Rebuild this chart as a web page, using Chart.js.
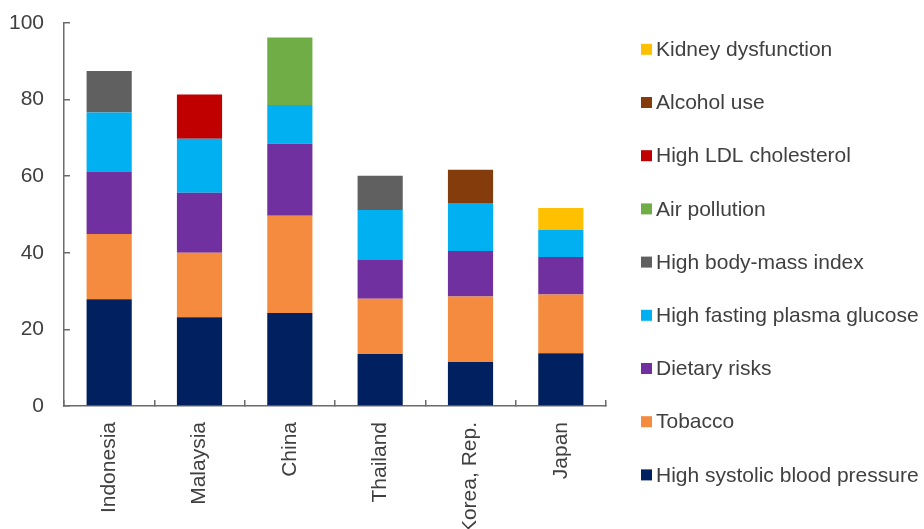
<!DOCTYPE html>
<html>
<head>
<meta charset="utf-8">
<script src="https://cdn.jsdelivr.net/npm/chart.js@4.4.1/dist/chart.umd.min.js"></script>
<style>
  html, body { margin: 0; padding: 0; background: #fff; overflow: hidden; }
  #wrap { width: 924px; height: 529px; position: relative; }
</style>
</head>
<body>
<div id="wrap"><canvas id="riskChart"></canvas></div>
<script>
const countries = ['Indonesia', 'Malaysia', 'China', 'Thailand', 'Korea, Rep.', 'Japan'];

const systolicBP  = [27.9, 23.2, 24.3, 13.6, 11.5, 13.8];
const tobacco     = [17.0, 16.8, 25.4, 14.4, 17.1, 15.3];
const dietary     = [16.3, 15.7, 18.8, 10.1, 11.9, 9.8];
const plasmaGluc  = [15.4, 14.1, 10.1, 13.1, 12.5, 7.1];
const bodyMass    = [10.9, null, null, 8.9, null, null];
const airPoll     = [null, null, 17.6, null, null, null];
const ldlChol     = [null, 11.5, null, null, null, null];
const alcohol     = [null, null, null, null, 8.7, null];
const kidney      = [null, null, null, null, null, 5.7];

const yTicks = [0, 20, 40, 60, 80, 100];

const FONT = '"Liberation Sans", Arial, sans-serif';
const TXT = '#404040';
const AXIS = '#6b6b6b';

function ds(label, data, color) {
  return { label, data, backgroundColor: color, borderWidth: 0 };
}

// legend drawn by hand so the spacing matches the original (reversed order)
const sideLegend = {
  id: 'sideLegend',
  afterDraw(chart) {
    const ctx = chart.ctx;
    const sets = chart.data.datasets;
    ctx.save();
    ctx.font = '21px ' + FONT;
    ctx.textBaseline = 'middle';
    ctx.textAlign = 'left';
    for (let i = sets.length - 1, r = 0; i >= 0; i--, r++) {
      const cy = 49.3 + r * 53.2;
      ctx.fillStyle = sets[i].backgroundColor;
      ctx.fillRect(641, cy - 5.5, 11, 11);
      ctx.fillStyle = TXT;
      ctx.fillText(sets[i].label, 656, cy + 1);
    }
    ctx.restore();
  }
};

new Chart(document.getElementById('riskChart'), {
  type: 'bar',
  data: {
    labels: countries,
    datasets: [
      ds('High systolic blood pressure', systolicBP, '#002060'),
      ds('Tobacco', tobacco, '#F58B3E'),
      ds('Dietary risks', dietary, '#7030A0'),
      ds('High fasting plasma glucose', plasmaGluc, '#00B0F0'),
      ds('High body-mass index', bodyMass, '#606060'),
      ds('Air pollution', airPoll, '#70AD47'),
      ds('High LDL cholesterol', ldlChol, '#C00000'),
      ds('Alcohol use', alcohol, '#843C0C'),
      ds('Kidney dysfunction', kidney, '#FFC000'),
    ],
  },
  options: {
    responsive: true, maintainAspectRatio: false, animation: false,
    layout: { padding: { top: 23, right: 318, bottom: 0, left: 0 } },
    plugins: { legend: { display: false }, tooltip: { enabled: false } },
    datasets: { bar: { categoryPercentage: 0.5, barPercentage: 1 } },
    scales: {
      x: {
        stacked: true,
        afterFit(s) { s.height = 123; },
        border: { color: AXIS, width: 1.5 },
        grid: { drawOnChartArea: false, color: AXIS, lineWidth: 1.5, tickLength: -6 },
        ticks: {
          autoSkip: false, minRotation: 90, maxRotation: 90, padding: 22,
          color: TXT, font: { family: FONT, size: 21 },
        },
      },
      y: {
        stacked: true, min: 0, max: 100,
        // fixed width; drop the label padding chart.js adds above the axis
        afterFit(s) { s.width = 64; s.paddingTop = 0; s.paddingBottom = 0; },
        afterBuildTicks(s) { s.ticks = yTicks.map(v => ({ value: v })); },
        border: { color: AXIS, width: 1.5 },
        grid: { drawOnChartArea: false, color: AXIS, lineWidth: 1.5, tickLength: -6 },
        ticks: { padding: 26, color: TXT, font: { family: FONT, size: 21 } },
      },
    },
  },
  plugins: [sideLegend],
});
</script>
</body>
</html>
